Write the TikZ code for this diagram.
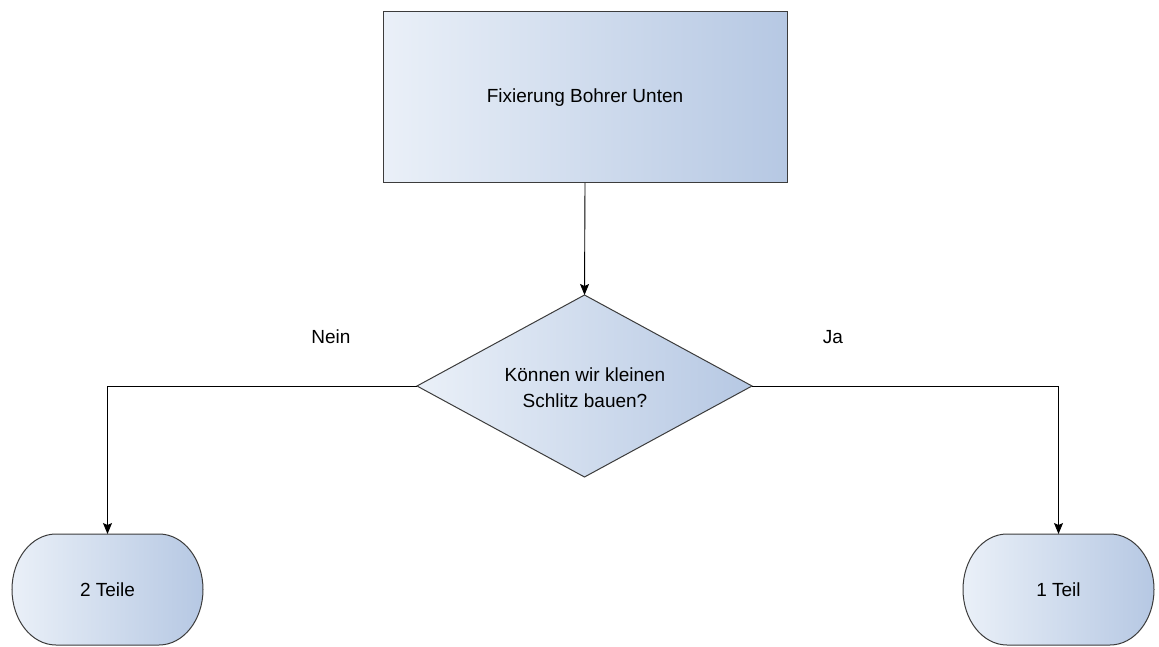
\documentclass[tikz,border=0pt]{standalone}
\usepackage{fontspec}
\setmainfont{Liberation Sans}
\usetikzlibrary{shapes.geometric,arrows.meta,calc}
\definecolor{fillL}{RGB}{234,240,248}
\definecolor{fillR}{RGB}{182,200,227}
\definecolor{edge}{RGB}{60,60,60}
\begin{document}
\begin{tikzpicture}[x=1pt,y=1pt,
  every node/.style={font=\fontsize{19}{23}\selectfont},
  shaded/.style={left color=fillL,right color=fillR,draw=edge,line width=1pt},
  procbox/.style={shaded,rectangle,minimum width=404pt,minimum height=171pt,inner sep=0pt,outer sep=0pt},
  decbox/.style={shaded,diamond,minimum width=335pt,minimum height=182pt,inner sep=0pt,outer sep=0pt},
  termbox/.style={rectangle,minimum width=191pt,minimum height=111pt,inner sep=0pt,outer sep=0pt},
  conn/.style={black,line width=0.9pt,-{Stealth[length=11pt,width=9pt,inset=2pt]}}]
\useasboundingbox (0,0) rectangle (1159,646);
\fill[white] (0,0) rectangle (1159,646);

\node[procbox] (p) at (585,548.5) {Fixierung Bohrer Unten};
\node[decbox] (d) at (584.5,260) {};
\node[align=center] (dtext) at (585,258) {Können wir kleinen\\[3pt] Schlitz bauen?};

% terminals: draw stadium shapes with elliptical ends
\node[termbox] (t2) at (107.5,56.5) {};
\node[termbox] (t1) at (1058.5,56.5) {};
\foreach \t in {t1,t2}{
  \path[shaded] ($(\t.north west)+(44,0)$) -- ($(\t.north east)+(-44,0)$)
     arc[start angle=90,end angle=-90,x radius=44,y radius=55.5]
     -- ($(\t.south west)+(44,0)$)
     arc[start angle=270,end angle=90,x radius=44,y radius=55.5] -- cycle;
}
\node at (t2) {2 Teile};
\node at (t1) {1 Teil};

\draw[conn] (p.south) -- (d.north);
\draw[conn] (d.west) -| (t2.north);
\draw[conn] (d.east) -| (t1.north);

\node (nein) at (331,309) {Nein};
\node (ja) at (833,309) {Ja};
\end{tikzpicture}
\end{document}
